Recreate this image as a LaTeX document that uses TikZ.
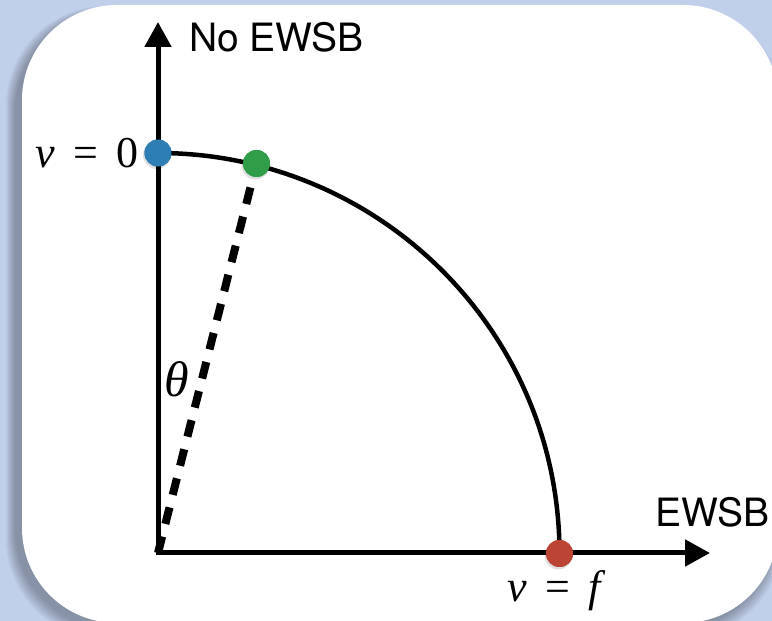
\documentclass[tikz,border=0pt]{standalone}
\usepackage{fontspec}
\newfontfamily\labelfont{TeX Gyre Heros}
\newfontfamily\seriffont{Liberation Serif}
\usetikzlibrary{arrows.meta}
\definecolor{bgblue}{RGB}{192,207,234}
\definecolor{dotblue}{RGB}{46,126,182}
\definecolor{dotgreen}{RGB}{48,158,72}
\definecolor{dotred}{RGB}{188,68,52}
\tikzset{
  axisline/.style={line width=5pt, line join=miter,
    {Triangle[length=25pt,width=26pt]}-{Triangle[length=25pt,width=26pt]}},
  curveline/.style={line width=4.5pt},
  dashline/.style={line width=8pt, dash pattern=on 17pt off 13pt},
  dot/.style={circle, inner sep=0pt, minimum size=27pt},
  sanslabel/.style={inner sep=0pt, font=\labelfont\fontsize{39}{39}\selectfont},
  mathlabel/.style={inner sep=0pt, font=\seriffont\fontsize{44}{44}\selectfont},
}
\newcommand{\eqsp}{\hspace{0.42em}}
\begin{document}
\begin{tikzpicture}[x=1pt,y=1pt]
\useasboundingbox (0,0) rectangle (772,621);
\fill[bgblue] (0,0) rectangle (772,621);
% soft shadow of the panel
\foreach \i in {1,...,10}
  \fill[black, opacity=0.03, rounded corners=100pt] (16-\i,-8-\i) rectangle (772+\i,609+0.6*\i);
\fill[white, rounded corners=95pt] (22,-2) rectangle (778,616);

\coordinate (O) at (158,68);
\coordinate (ytip) at (158,599);
\coordinate (xtip) at (710,68);
\node[dot, fill=dotblue] (b) at (158,468) {};
\node[dot, fill=dotgreen] (g) at (256.5,457.5) {};
\node[dot, fill=dotred] (r) at (559.5,67.5) {};

\draw[axisline] (ytip) -- (O) -- (xtip);
\draw[curveline] (b.center) arc[start angle=90, end angle=0, x radius=401.5, y radius=400.5];
\draw[dashline] (O) -- (g.center);

\foreach \n/\c in {b/dotblue, g/dotgreen, r/dotred}
  \fill[black, opacity=0.12] ([xshift=-1pt,yshift=-2pt]\n.center) circle (14pt);
\node[dot, fill=dotblue] at (b) {};
\node[dot, fill=dotgreen] at (g) {};
\node[dot, fill=dotred] at (r) {};

\node[sanslabel, anchor=base west] (noewsb) at (189,569) {No EWSB};
\node[sanslabel, anchor=base west] (ewsb) at (655,94) {EWSB};
\node[mathlabel, anchor=base east] (v0) at (139,453) {\itshape v\upshape\eqsp=\eqsp0};
\node[mathlabel, anchor=base west] (vf) at (507,19) {\itshape v\upshape\eqsp=\eqsp\itshape f};
\node[inner sep=0pt, font=\seriffont\itshape\fontsize{50}{50}\selectfont, anchor=base] (theta) at (177,224) {θ};
\end{tikzpicture}
\end{document}
